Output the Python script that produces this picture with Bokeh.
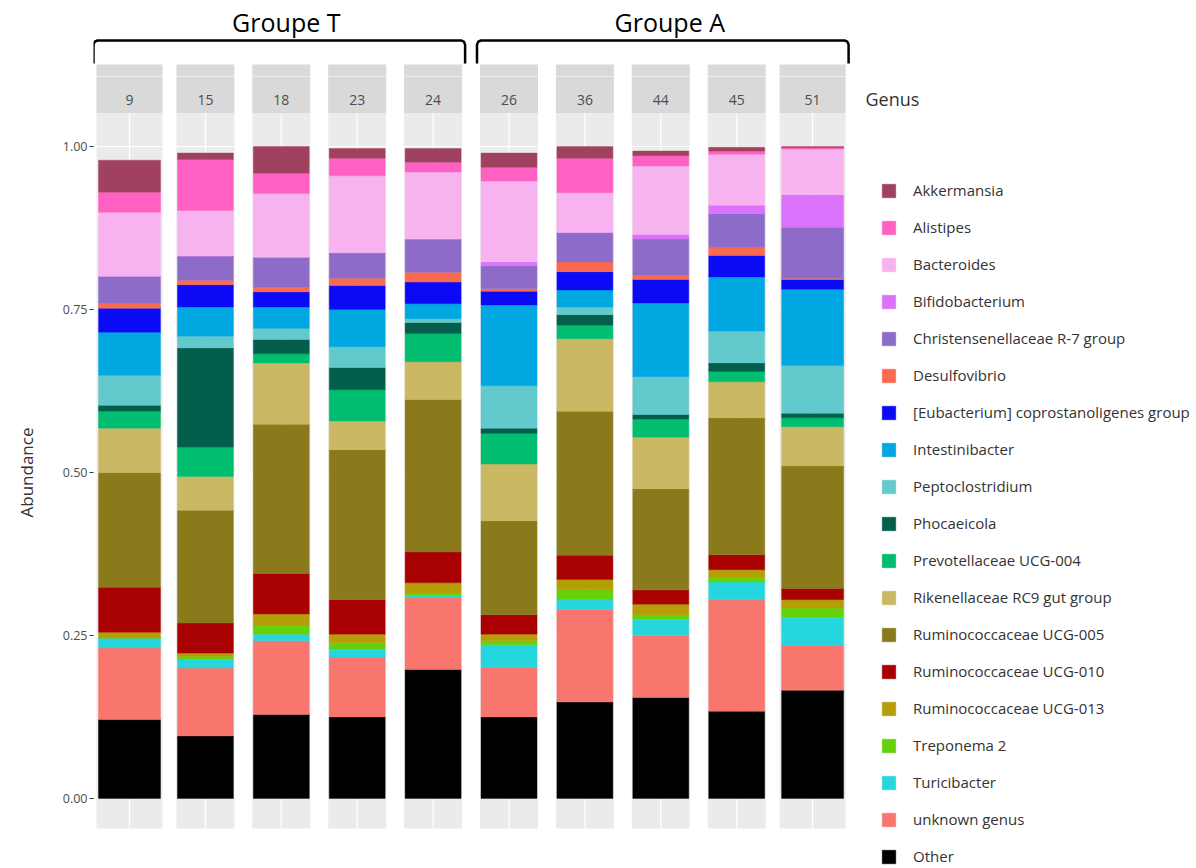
from bokeh.plotting import figure
from bokeh.layouts import column
from bokeh.models import (Range1d, ColumnDataSource, FixedTicker, NumeralTickFormatter,
                          Legend, LegendItem)
from bokeh.core.properties import value
from bokeh.embed import file_html
from bokeh.resources import INLINE

# ---------------- data ----------------
samples = ["9", "15", "18", "23", "24", "26", "36", "44", "45", "51"]
group_T = ["9", "15", "18", "23", "24"]
group_A = ["26", "36", "44", "45", "51"]

# genera from top of legend to bottom
genera = ["Akkermansia", "Alistipes", "Bacteroides", "Bifidobacterium",
          "Christensenellaceae R-7 group", "Desulfovibrio",
          "[Eubacterium] coprostanoligenes group", "Intestinibacter",
          "Peptoclostridium", "Phocaeicola", "Prevotellaceae UCG-004",
          "Rikenellaceae RC9 gut group", "Ruminococcaceae UCG-005",
          "Ruminococcaceae UCG-010", "Ruminococcaceae UCG-013", "Treponema 2",
          "Turicibacter", "unknown genus", "Other"]

colors = ["#A0415F", "#FF61C3", "#F7B3EF", "#DB72FB", "#8D6CC9", "#FA6A50",
          "#0A0AF5", "#00A7E1", "#62C9CD", "#035E4B", "#00BD70", "#CAB865",
          "#8A7A1B", "#A90101", "#B59E05", "#64D20A", "#26D6DE", "#F8766D",
          "#000000"]

akkermansia      = [0.049, 0.010, 0.041, 0.015, 0.021, 0.022, 0.018, 0.007, 0.006, 0.002]
alistipes        = [0.031, 0.078, 0.031, 0.027, 0.015, 0.021, 0.053, 0.016, 0.005, 0.002]
bacteroides      = [0.098, 0.070, 0.098, 0.118, 0.103, 0.124, 0.061, 0.105, 0.078, 0.070]
bifidobacterium  = [0.000, 0.000, 0.000, 0.000, 0.000, 0.006, 0.000, 0.007, 0.013, 0.050]
christensenella  = [0.041, 0.037, 0.046, 0.039, 0.051, 0.035, 0.045, 0.055, 0.052, 0.078]
desulfovibrio    = [0.008, 0.007, 0.007, 0.011, 0.015, 0.004, 0.015, 0.007, 0.012, 0.002]
eubacterium      = [0.037, 0.034, 0.023, 0.037, 0.033, 0.021, 0.028, 0.036, 0.033, 0.015]
intestinibacter  = [0.066, 0.045, 0.033, 0.057, 0.023, 0.124, 0.026, 0.113, 0.083, 0.117]
peptoclostridium = [0.046, 0.018, 0.017, 0.032, 0.006, 0.065, 0.012, 0.058, 0.049, 0.073]
phocaeicola      = [0.009, 0.152, 0.022, 0.034, 0.017, 0.008, 0.016, 0.007, 0.013, 0.007]
prevotellaceae   = [0.026, 0.045, 0.014, 0.048, 0.043, 0.047, 0.021, 0.028, 0.016, 0.014]
rikenellaceae    = [0.068, 0.052, 0.094, 0.044, 0.058, 0.087, 0.111, 0.079, 0.055, 0.060]
rumino_005       = [0.176, 0.173, 0.229, 0.230, 0.234, 0.144, 0.221, 0.155, 0.210, 0.188]
rumino_010       = [0.069, 0.046, 0.062, 0.053, 0.047, 0.030, 0.037, 0.022, 0.023, 0.017]
rumino_013       = [0.009, 0.005, 0.017, 0.013, 0.016, 0.010, 0.016, 0.016, 0.012, 0.013]
treponema        = [0.000, 0.005, 0.014, 0.010, 0.004, 0.006, 0.015, 0.007, 0.007, 0.014]
turicibacter     = [0.015, 0.013, 0.010, 0.012, 0.003, 0.035, 0.015, 0.025, 0.027, 0.043]
unknown_genus    = [0.110, 0.104, 0.113, 0.092, 0.110, 0.076, 0.142, 0.095, 0.171, 0.069]
other            = [0.121, 0.096, 0.129, 0.125, 0.198, 0.125, 0.148, 0.155, 0.134, 0.166]

series = [akkermansia, alistipes, bacteroides, bifidobacterium, christensenella,
          desulfovibrio, eubacterium, intestinibacter, peptoclostridium, phocaeicola,
          prevotellaceae, rikenellaceae, rumino_005, rumino_010, rumino_013,
          treponema, turicibacter, unknown_genus, other]

y_ticks = [0.0, 0.25, 0.5, 0.75, 1.0]

# ---------------- layout ----------------
W, H = 1196, 868
SPLIT = 76                # page y where the header figure ends
LEFT = 93                 # frame left border (page px)
STEP = 75.9               # px per panel
PXU = 652.0               # px per abundance unit
ZERO_Y = 798              # page y of abundance 0
FIRST_CENTER = 129        # page x of first panel centre

def gy(page_y):
    return (ZERO_Y - page_y) / PXU

x_start = (LEFT - FIRST_CENTER) / STEP
x_end = x_start + (W - LEFT) / STEP

def gx(page_x):
    return x_start + (page_x - LEFT) / STEP

n = len(samples)
xs = list(range(n))
panel_w = [(66 if i in (0, n - 1) else 58) / STEP for i in xs]
bar_w = [(62 if i in (0, n - 1) else 56) / STEP for i in xs]
lefts = [x - w / 2 for x, w in zip(xs, panel_w)]
rights = [x + w / 2 for x, w in zip(xs, panel_w)]

panel_top = gy(113)
panel_bot = gy(828)
strip_top = gy(64)

def make_fig(h, y0, y1, with_axis):
    f = figure(width=W, height=h, output_backend="svg", toolbar_location=None,
               x_range=Range1d(x_start, x_end), y_range=Range1d(y0, y1),
               x_axis_location=None, y_axis_location=("left" if with_axis else None),
               min_border_left=LEFT, min_border_right=0, min_border_top=0, min_border_bottom=0)
    f.outline_line_color = None
    f.grid.visible = False
    f.background_fill_color = "white"
    f.border_fill_color = "white"
    return f

top = make_fig(SPLIT, gy(SPLIT), gy(0), False)
p = make_fig(H - SPLIT, gy(H), gy(SPLIT), True)

# strips (drawn in both figures; each frame shows its own part)
for f in (top, p):
    f.quad(left=lefts, right=rights, bottom=panel_top, top=strip_top,
           fill_color="#D9D9D9", line_color=None)

# panel backgrounds
p.quad(left=lefts, right=rights, bottom=panel_bot, top=panel_top,
       fill_color="#EBEBEB", line_color=None)

# white grid lines inside panels
gx0, gx1, gy0, gy1 = [], [], [], []
for x, l, r in zip(xs, lefts, rights):
    for t in y_ticks:
        gx0.append(l); gx1.append(r); gy0.append(t); gy1.append(t)
    gx0.append(x); gx1.append(x); gy0.append(panel_bot); gy1.append(panel_top)
p.segment(x0=gx0, x1=gx1, y0=gy0, y1=gy1, line_color="white", line_width=1.2)

# stacked bars
data = {"x": xs, "bw": bar_w}
keys = []
for i, s in enumerate(series):
    k = f"g{i}"
    keys.append(k)
    data[k] = s
src = ColumnDataSource(data)
stack_keys = keys[::-1]
stack_cols = colors[::-1]
rs = p.vbar_stack(stack_keys, x="x", width="bw", source=src,
                  fill_color=stack_cols, line_color=stack_cols, line_width=0.4)

# strip labels
p.text(x=xs, y=[gy(99)] * n, text=samples, text_align="center", text_baseline="middle",
       text_font=value("Open Sans"), text_font_size="14px", text_color="#4D4D4D")

# group brackets
def bracket(group):
    i0 = samples.index(group[0]); i1 = samples.index(group[-1])
    xl = lefts[i0] - 3 / STEP
    xr = rights[i1] + 3 / STEP
    ytop, ybot = gy(40), gy(63)
    r_x, r_y = 4 / STEP, 4 / PXU
    xsb = [xl, xl, xl + r_x * 0.3, xl + r_x, xr - r_x, xr - r_x * 0.3, xr, xr]
    ysb = [ybot, ytop - r_y, ytop - r_y * 0.3, ytop, ytop, ytop - r_y * 0.3, ytop - r_y, ybot]
    return xsb, ysb, (xl + xr) / 2

for grp, name in ((group_T, "Groupe T"), (group_A, "Groupe A")):
    bxs, bys, cx = bracket(grp)
    top.line(bxs, bys, line_color="black", line_width=2.5)
    top.text(x=[cx + 7 / STEP], y=[gy(21)], text=[name], text_align="center",
             text_baseline="middle", text_font=value("Open Sans"),
             text_font_size="25px", text_color="black")

# legend title
p.text(x=[gx(865)], y=[gy(98)], text=["Genus"], text_align="left", text_baseline="middle",
       text_font=value("Open Sans"), text_font_size="18px", text_color="#333333")

# y axis
ax = p.yaxis[0]
ax.ticker = FixedTicker(ticks=y_ticks)
ax.formatter = NumeralTickFormatter(format="0.00")
ax.axis_line_color = None
ax.major_tick_line_color = "#333333"
ax.major_tick_out = 4
ax.major_tick_in = 0
ax.minor_tick_line_color = None
ax.major_label_standoff = 2
ax.major_label_text_font = "Open Sans"
ax.major_label_text_font_size = "12.5px"
ax.major_label_text_color = "#4D4D4D"
ax.axis_label = "Abundance"
ax.axis_label_standoff = 22
ax.axis_label_text_font = "Open Sans"
ax.axis_label_text_font_size = "17px"
ax.axis_label_text_font_style = "normal"
ax.axis_label_text_color = "#333333"

# legend
rmap = dict(zip(stack_keys, rs))
items = [LegendItem(label=g, renderers=[rmap[k]]) for g, k in zip(genera, keys)]
legend = Legend(items=items, location=(880 - LEFT, 1),
                padding=0, margin=0, spacing=15, glyph_width=17, glyph_height=17,
                label_height=22, label_standoff=16, label_text_font="Open Sans",
                label_text_font_size="15px", label_text_color="#333333",
                border_line_color=None, background_fill_alpha=0)
p.add_layout(legend, "center")

layout = column(top, p, spacing=0)
open("out.html", "w").write(file_html(layout, INLINE))
